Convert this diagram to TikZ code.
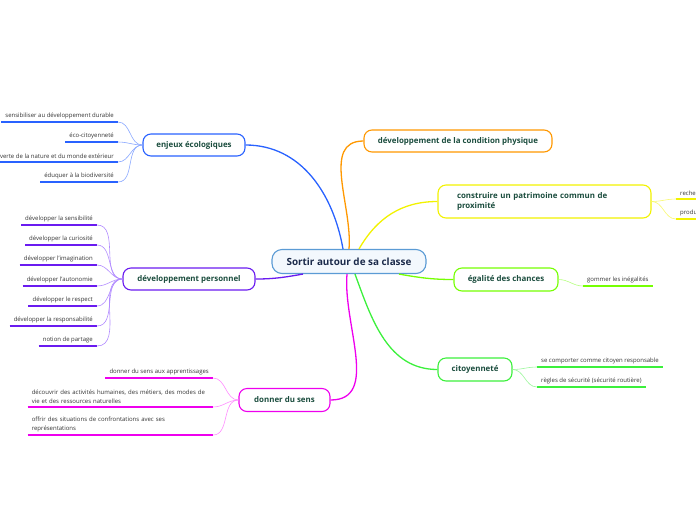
\documentclass[tikz,border=0pt]{standalone}
\usepackage{fontspec}
\setmainfont{Open Sans}
\usetikzlibrary{positioning}
\definecolor{ink}{HTML}{1B4D3E}
\definecolor{navy}{HTML}{1C2B4B}
\definecolor{leafink}{HTML}{333333}
\definecolor{skyline}{HTML}{5B9BD5}
\definecolor{skyfill}{HTML}{F3F8FD}
\definecolor{bleu}{HTML}{2962FF}
\definecolor{lbleu}{HTML}{8AA8FF}
\definecolor{purp}{HTML}{6A1BF0}
\definecolor{lpurp}{HTML}{B28CFF}
\definecolor{mag}{HTML}{EE00EE}
\definecolor{lmag}{HTML}{FF8CFF}
\definecolor{orng}{HTML}{FF9800}
\definecolor{yel}{HTML}{F2F200}
\definecolor{lyel}{HTML}{F8F870}
\definecolor{lime2}{HTML}{76FF03}
\definecolor{llime}{HTML}{B6FF80}
\definecolor{grn}{HTML}{3CF03C}
\definecolor{lgrn}{HTML}{9CF79C}

\begin{document}
\begin{tikzpicture}[
  x=1pt,y=1pt,
  box/.style={draw,line width=1.1pt,rounded corners=8pt,fill=white,minimum height=22pt,
    font=\fontsize{7.9}{9.5}\selectfont\bfseries,text=ink},
  leaf/.style={font=\fontsize{6}{9}\selectfont,text=leafink,inner xsep=4pt,inner ysep=3pt},
  branch/.style={line width=1.3pt},
  twig/.style={line width=0.6pt},
  uline/.style={line width=1.6pt}
]
\useasboundingbox (0,0) rectangle (696,-520);

% centre
\node[box,draw=skyline,fill=skyfill,text=navy,font=\fontsize{9.9}{11}\selectfont\bfseries,
  minimum width=154pt,minimum height=24pt,rounded corners=10pt] (root) at (349,-261.5)
  {Sortir autour de sa classe};

% branches
\node[box,draw=bleu,minimum width=102pt] (eco) at (194,-145) {enjeux écologiques};
\node[box,draw=purp,minimum width=132pt] (perso) at (189,-279) {développement personnel};
\node[box,draw=mag,minimum width=91pt,minimum height=23pt] (sens) at (284.5,-400) {donner du sens};
\node[box,draw=orng,minimum width=188pt] (phys) at (458,-141) {développement de la condition physique};
\node[box,draw=yel,minimum height=33pt,text width=175pt,align=left,inner xsep=19pt] (patri)
  at (544.5,-201.5) {construire un patrimoine commun de\\proximité};
\node[box,draw=lime2,minimum width=104pt,minimum height=23pt] (egal) at (506,-279.5) {égalité des chances};
\node[box,draw=grn,minimum width=74pt,minimum height=23pt] (cito) at (475,-369.5) {citoyenneté};

\draw[branch,bleu] ([xshift=-6pt]root.north) to[out=100,in=0] (eco.east);
\draw[branch,orng] (root.north) to[out=85,in=180] (phys.west);
\draw[branch,yel] ([xshift=10pt]root.north) to[out=60,in=180] (patri.west);
\draw[branch,purp] ([xshift=-46pt]root.south) to[out=190,in=0] (perso.east);
\draw[branch,mag] ([xshift=-2pt]root.south) to[out=-95,in=0] (sens.east);
\draw[branch,lime2] ([xshift=50pt]root.south) to[out=-10,in=180] (egal.west);
\draw[branch,grn] ([xshift=6pt]root.south) to[out=-70,in=180] (cito.west);

% enjeux écologiques
\node[leaf,anchor=south east] (e1) at (118,-122) {sensibiliser au développement durable};
\node[leaf,anchor=south east] (e2) at (118,-142) {éco-citoyenneté};
\node[leaf,anchor=south east] (e3) at (118,-162) {découverte de la nature et du monde extérieur};
\node[leaf,anchor=south east] (e4) at (118,-182) {éduquer à la biodiversité};
\foreach \n in {e1,e2,e3,e4}{
  \draw[uline,bleu] (\n.south west) -- (\n.south east);
  \draw[twig,lbleu] (eco.west) to[out=180,in=0] (\n.south east);
}

% développement personnel
\node[leaf,anchor=south east] (p1) at (97,-225) {développer la sensibilité};
\node[leaf,anchor=south east] (p2) at (97,-245) {développer la curiosité};
\node[leaf,anchor=south east] (p3) at (97,-265) {développer l'imagination};
\node[leaf,anchor=south east] (p4) at (97,-286) {développer l'autonomie};
\node[leaf,anchor=south east] (p5) at (97,-306) {développer le respect};
\node[leaf,anchor=south east] (p6) at (97,-326) {développer la responsabilité};
\node[leaf,anchor=south east] (p7) at (97,-346) {notion de partage};
\foreach \n in {p1,p2,p3,p4,p5,p6,p7}{
  \draw[uline,purp] (\n.south west) -- (\n.south east);
  \draw[twig,lpurp] (perso.west) to[out=180,in=0] (\n.south east);
}

% donner du sens
\node[leaf,anchor=south east] (s1) at (213,-378) {donner du sens aux apprentissages};
\node[leaf,anchor=south east,text width=177pt,align=left] (s2) at (213,-407)
  {découvrir des activités humaines, des métiers, des modes de\\vie et des ressources naturelles};
\node[leaf,anchor=south east,text width=177pt,align=left] (s3) at (213,-435)
  {offrir des situations de confrontations avec ses\\représentations};
\foreach \n in {s1,s2,s3}{
  \draw[uline,mag] (\n.south west) -- (\n.south east);
  \draw[twig,lmag] (sens.west) to[out=180,in=0] (\n.south east);
}

% patrimoine
\node[leaf,anchor=south west] (r1) at (676,-199) {recherche};
\node[leaf,anchor=south west] (r2) at (676,-219) {production};
\foreach \n in {r1,r2}{
  \draw[uline,yel] (\n.south west) -- (\n.south east);
  \draw[twig,lyel] (patri.east) to[out=0,in=180] (\n.south west);
}

% égalité des chances
\node[leaf,anchor=south west] (g1) at (583,-286) {gommer les inégalités};
\draw[uline,lime2] (g1.south west) -- (g1.south east);
\draw[twig,llime] (egal.east) to[out=0,in=180] (g1.south west);

% citoyenneté
\node[leaf,anchor=south west] (c1) at (537,-367) {se comporter comme citoyen responsable};
\node[leaf,anchor=south west] (c2) at (537,-387) {règles de sécurité (sécurité routière)};
\foreach \n in {c1,c2}{
  \draw[uline,grn] (\n.south west) -- (\n.south east);
  \draw[twig,lgrn] (cito.east) to[out=0,in=180] (\n.south west);
}
\end{tikzpicture}
\end{document}
